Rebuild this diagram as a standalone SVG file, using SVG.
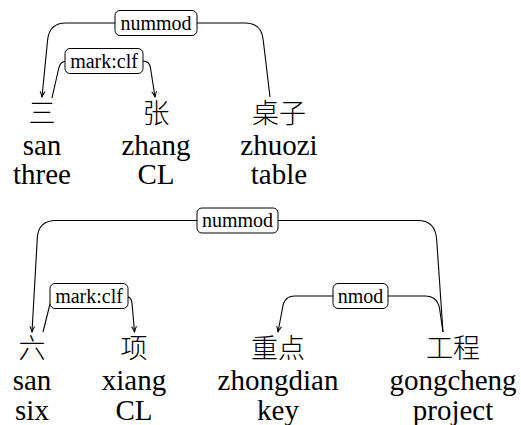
<svg xmlns="http://www.w3.org/2000/svg" width="521" height="425" viewBox="0 0 521 425">
<style>
.word{font-family:"Liberation Serif","Times New Roman",serif;font-size:29px;text-anchor:middle;fill:#000}
.cjk{font-family:"Noto Sans CJK SC",sans-serif;font-size:27px;font-weight:300;text-anchor:middle;fill:#000}
.lb{fill:#fff;stroke:#000;stroke-width:1}
.lt{font-family:"Liberation Serif",serif;font-size:20px;text-anchor:middle;fill:#000}
.e{fill:none;stroke:#000;stroke-width:1.1}
</style>
<defs>
<marker id="ah" viewBox="0 0 10 10" refX="9" refY="5" markerWidth="7" markerHeight="7" markerUnits="userSpaceOnUse" orient="auto">
<path d="M1 1.5 Q5 4 9.5 5 Q5 6 1 8.5" fill="none" stroke="#000" stroke-width="1.4"/>
</marker>
</defs>
<g id="edges">
<path class="e" marker-end="url(#ah)" d="M270 97 L263.2 40 Q261.5 23 245 23 L66 23 Q49.3 23 47.6 40 L42 97"/>
<path class="e" marker-end="url(#ah)" d="M52 98 L58.8 68 Q60.5 61 67 61 L143 61 Q149.5 61 150.5 68 L155 97"/>
<path class="e" marker-end="url(#ah)" d="M443 332 L436.7 240 Q435.5 220.5 418 220.5 L56 220.5 Q38.3 220.5 37.3 238 L32 332"/>
<path class="e" marker-end="url(#ah)" d="M43 332 L50 304 Q52 296 58 296 L125 296 Q131 296 132 303 L134.5 332"/>
<path class="e" marker-end="url(#ah)" d="M443 332 L439.5 308 Q437 296 425 296 L295 296 Q284 296 282.5 308 L278 332"/>
</g>
<g id="lbl-nummod1"><rect class="lb" x="115" y="10.5" width="82" height="25" rx="5"/><text class="lt" x="156" y="29.5">nummod</text></g>
<g id="lbl-markclf1"><rect class="lb" x="65" y="48.5" width="78" height="25" rx="5"/><text class="lt" x="104" y="67.5">mark:clf</text></g>
<g id="lbl-nummod2"><rect class="lb" x="197" y="208" width="81" height="25" rx="5"/><text class="lt" x="237.5" y="227">nummod</text></g>
<g id="lbl-markclf2"><rect class="lb" x="50" y="283.5" width="78" height="25" rx="5"/><text class="lt" x="89" y="302.5">mark:clf</text></g>
<g id="lbl-nmod"><rect class="lb" x="333" y="283.5" width="55" height="25" rx="5"/><text class="lt" x="360.5" y="302.5">nmod</text></g>
<g id="w1-san"><text class="cjk" x="42" y="123">三</text><text class="word" x="42" y="155">san</text><text class="word" x="42" y="184">three</text></g>
<g id="w1-zhang"><text class="cjk" x="156" y="123">张</text><text class="word" x="156" y="155">zhang</text><text class="word" x="156" y="184">CL</text></g>
<g id="w1-zhuozi"><text class="cjk" x="279" y="123">桌子</text><text class="word" x="279" y="155">zhuozi</text><text class="word" x="279" y="184">table</text></g>
<g id="w2-san"><text class="cjk" x="32" y="358">六</text><text class="word" x="32" y="390">san</text><text class="word" x="32" y="420">six</text></g>
<g id="w2-xiang"><text class="cjk" x="134" y="358">项</text><text class="word" x="134" y="390">xiang</text><text class="word" x="134" y="420">CL</text></g>
<g id="w2-zhongdian"><text class="cjk" x="278" y="358">重点</text><text class="word" x="278" y="390">zhongdian</text><text class="word" x="278" y="420">key</text></g>
<g id="w2-gongcheng"><text class="cjk" x="453" y="358">工程</text><text class="word" x="453" y="390">gongcheng</text><text class="word" x="453" y="420">project</text></g>
</svg>
